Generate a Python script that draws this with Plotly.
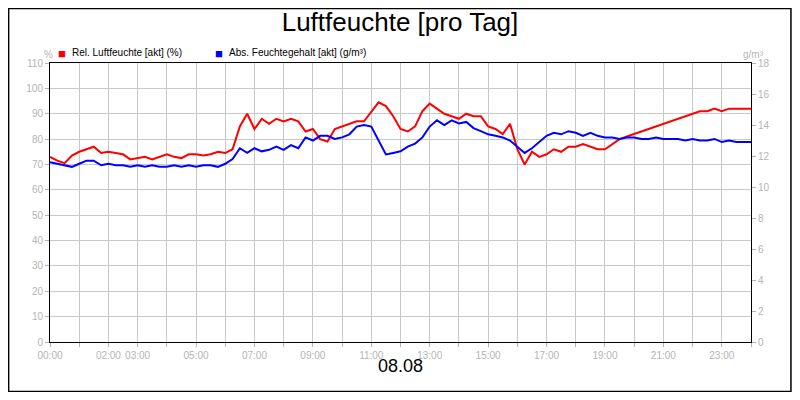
import plotly.graph_objects as go

# quarter-hour samples over the day
hours = [i * 0.25 for i in range(97)]

rel_humidity = [
    73, 71.5, 70.5, 73.5, 75, 76, 77, 74.5,      # 00-02
    75, 74.5, 74, 72, 72.5, 73, 72, 73,          # 02-04
    74, 73, 72.5, 74, 74, 73.5, 74, 75,          # 04-06
    74.5, 76, 85, 90, 84, 88, 86, 88,            # 06-08
    87, 88, 87, 83, 84, 80, 79, 84,              # 08-10
    85, 86, 87, 87, 91, 94.5, 93, 89,            # 10-12
    84, 83, 85, 91, 94, 92, 90, 89,              # 12-14
    88, 90, 89, 89, 85, 84, 82, 86,              # 14-16
    76, 70, 75, 73, 74, 76, 75, 77,              # 16-18
    77, 78, 77, 76, 76, 78, 80, 81,              # 18-20
    82, 83, 84, 85, 86, 87, 88, 89,              # 20-22
    90, 91, 91, 92, 91, 92, 92, 92,              # 22-24
    92,
]

abs_humidity = [
    11.6, 11.5, 11.4, 11.3, 11.5, 11.7, 11.7, 11.4,
    11.5, 11.4, 11.4, 11.3, 11.4, 11.3, 11.4, 11.3,
    11.3, 11.4, 11.3, 11.4, 11.3, 11.4, 11.4, 11.3,
    11.5, 11.8, 12.5, 12.2, 12.5, 12.3, 12.4, 12.6,
    12.4, 12.7, 12.5, 13.2, 13.0, 13.3, 13.3, 13.1,
    13.2, 13.4, 13.9, 14.0, 13.9, 13.0, 12.1, 12.2,
    12.3, 12.6, 12.8, 13.2, 13.9, 14.3, 14.0, 14.3,
    14.1, 14.2, 13.8, 13.6, 13.4, 13.3, 13.2, 13.0,
    12.6, 12.2, 12.5, 12.9, 13.3, 13.5, 13.4, 13.6,
    13.5, 13.3, 13.5, 13.3, 13.2, 13.2, 13.1, 13.2,
    13.2, 13.1, 13.1, 13.2, 13.1, 13.1, 13.1, 13.0,
    13.1, 13.0, 13.0, 13.1, 12.9, 13.0, 12.9, 12.9,
    12.9,
]

tick_hours = list(range(0, 25))
tick_text = ["00:00", "", "02:00", "03:00", "", "05:00", "", "07:00", "", "09:00", "", "11:00", "",
             "13:00", "", "15:00", "", "17:00", "", "19:00", "", "21:00", "", "23:00", ""]

names = ["Rel. Luftfeuchte [akt] (%)", "Abs. Feuchtegehalt [akt] (g/m³)"]
colors = ["#ff0000", "#0000ff"]

fig = go.Figure()
fig.add_trace(go.Scatter(x=hours, y=rel_humidity, mode="lines", name=names[0],
                         line=dict(color=colors[0], width=2)))
fig.add_trace(go.Scatter(x=hours, y=abs_humidity, mode="lines", name=names[1], yaxis="y2",
                         line=dict(color=colors[1], width=2)))

grey = "#b4b4b4"
fig.update_layout(
    width=784, height=384,
    margin=dict(l=42, r=41, t=55, b=50),
    paper_bgcolor="white", plot_bgcolor="white",
    showlegend=False,
    font=dict(family="Liberation Sans, Arial", size=10, color=grey),
    title=dict(text="Luftfeuchte [pro Tag]", x=0.5, xanchor="center", y=0.965, yanchor="middle",
               font=dict(size=26, color="black")),
    xaxis=dict(range=[0, 24], tickvals=tick_hours, ticktext=tick_text, showgrid=True,
               gridcolor="#c8c8c8", showline=True, linecolor="black", linewidth=1, mirror=True,
               ticks="outside", ticklen=4, tickcolor=grey, zeroline=False),
    yaxis=dict(range=[0, 110], dtick=10, showgrid=True, gridcolor="#c8c8c8", showline=True,
               linecolor="black", mirror=True, ticks="outside", ticklen=4, tickcolor=grey,
               zeroline=False),
    yaxis2=dict(range=[0, 18], dtick=2, overlaying="y", side="right", showgrid=False,
                ticks="outside", ticklen=4, tickcolor=grey, zeroline=False),
    shapes=[dict(type="rect", xref="paper", yref="paper", x0=-0.059, x1=1.057, y0=-0.177, y1=1.195,
                 line=dict(color="black", width=1.5))],
    annotations=[
        dict(text="■", x=0.017, y=1.068, xref="paper", yref="paper", showarrow=False,
             font=dict(size=13, color=colors[0]), xanchor="center"),
        dict(text=names[0], x=0.028, y=1.065, xref="paper", yref="paper", showarrow=False,
             font=dict(size=10, color="black"), xanchor="left"),
        dict(text="■", x=0.241, y=1.068, xref="paper", yref="paper", showarrow=False,
             font=dict(size=13, color=colors[1]), xanchor="center"),
        dict(text=names[1], x=0.252, y=1.065, xref="paper", yref="paper", showarrow=False,
             font=dict(size=10, color="black"), xanchor="left"),
        dict(text="%", x=-0.011, y=1.057, xref="paper", yref="paper", showarrow=False,
             font=dict(size=10, color=grey)),
        dict(text="g/m³", x=1.021, y=1.057, xref="paper", yref="paper", showarrow=False,
             font=dict(size=10, color=grey)),
        dict(text="08.08", x=0.5, y=-0.129, xref="paper", yref="paper", showarrow=False,
             font=dict(size=18, color="black")),
    ],
)

fig.write_html("out.html")
